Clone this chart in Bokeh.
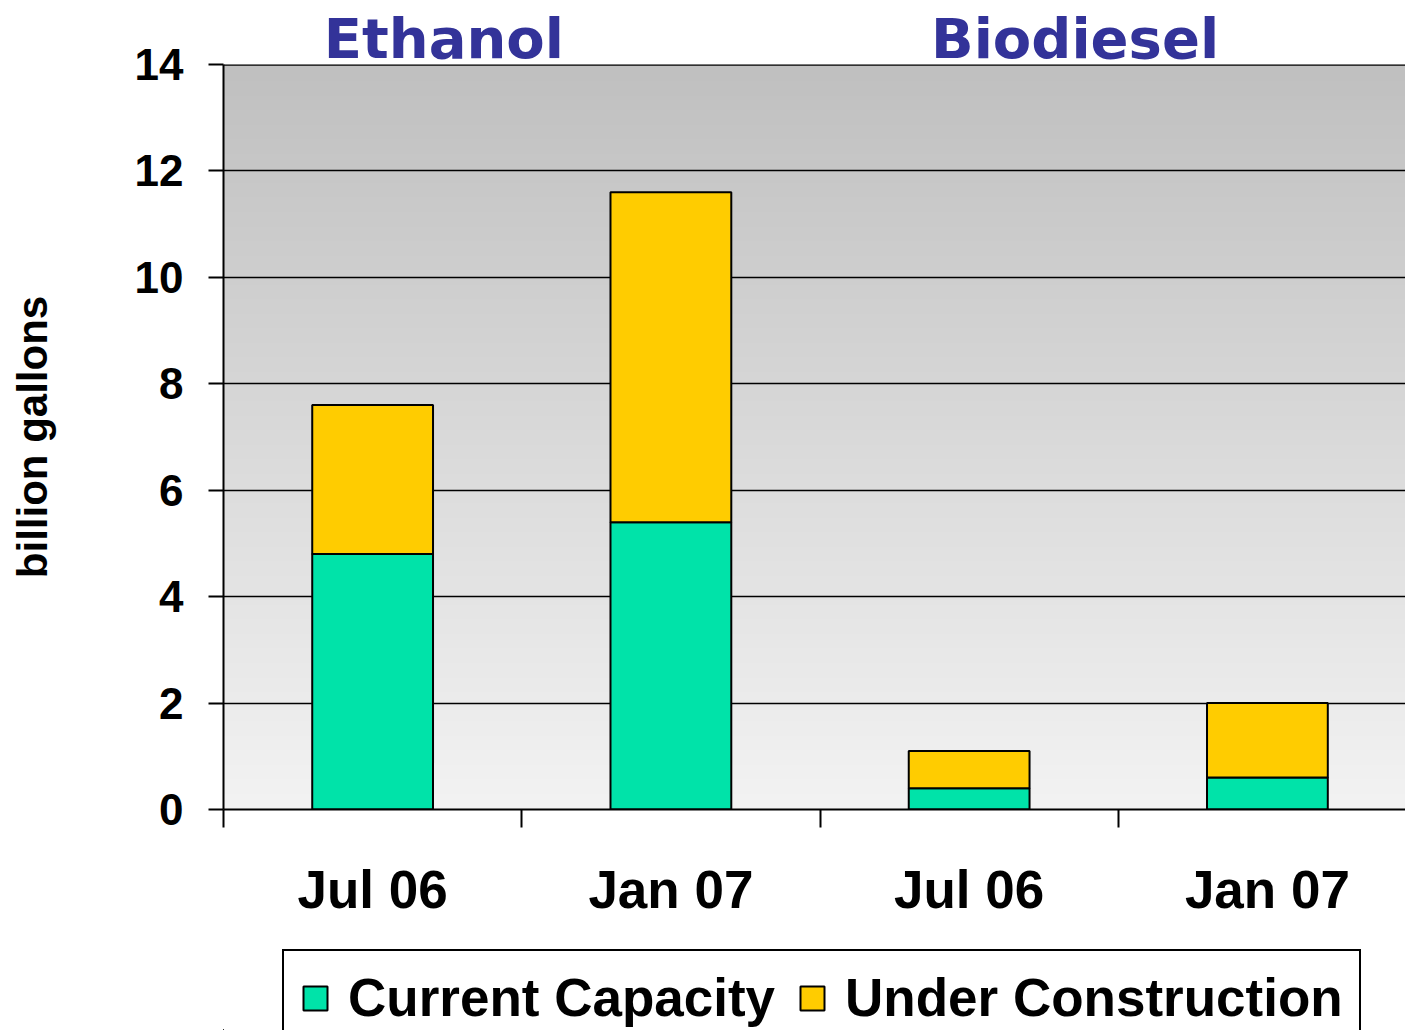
import numpy as np
from bokeh.plotting import figure
from bokeh.layouts import column
from bokeh.models import (Range1d, FixedTicker, Legend, LegendItem, Span, LinearAxis)
from bokeh.embed import file_html
from bokeh.resources import INLINE

# ---- data ----
categories = ["Jul 06", "Jan 07", "Jul 06", "Jan 07"]
groups = ["Ethanol", "Biodiesel"]
group_label_pos = [0.739, 2.855]
current_capacity = [4.8, 5.4, 0.4, 0.6]
under_construction = [2.8, 6.2, 0.7, 1.4]
series_names = ["Current Capacity", "Under Construction"]
y_ticks = [0, 2, 4, 6, 8, 10, 12, 14]

TEAL = "#00E3A9"
YELLOW = "#FFCC00"
NAVY = "#333399"
FONT = "Liberation Sans"

x_pos = [i + 0.5 for i in range(len(categories))]
x_end = 3.963

p = figure(width=1405, height=940, output_backend="svg", toolbar_location=None,
           title=None, x_range=Range1d(0, x_end), y_range=Range1d(0, 14),
           min_border_left=223, min_border_top=64, min_border_bottom=131,
           min_border_right=0)
p.outline_line_color = None
p.background_fill_color = "white"
p.border_fill_color = "white"

# gradient background for plot area
n = 512
vals = np.linspace(0xF3, 0xC0, n).astype(np.uint32)
img = np.zeros((n, 1), dtype=np.uint32)
view = img.view(dtype=np.uint8).reshape((n, 1, 4))
view[:, 0, 0] = vals
view[:, 0, 1] = vals
view[:, 0, 2] = vals
view[:, 0, 3] = 255
p.image_rgba(image=[img], x=0, y=0, dw=x_end, dh=14, level="image")

# grid
p.xgrid.visible = False
p.ygrid.grid_line_color = "black"
p.ygrid.grid_line_width = 1.6
p.ygrid.level = "underlay"
p.add_layout(Span(location=14, dimension="width", line_color="black", line_width=2.5))

src = dict(x=x_pos, current=current_capacity, under=under_construction)
rs = p.vbar_stack(["current", "under"], x="x", width=0.405, source=src,
                  color=[TEAL, YELLOW], line_color="black", line_width=2)

# y axis
yax = p.yaxis[0]
yax.ticker = FixedTicker(ticks=y_ticks, minor_ticks=[])
yax.major_label_text_font = FONT
yax.major_label_text_font_style = "bold"
yax.major_label_text_font_size = "44px"
yax.major_label_text_color = "black"
yax.major_tick_out = 15
yax.major_tick_in = 0
yax.major_tick_line_color = "black"
yax.major_tick_line_width = 2
yax.major_label_standoff = 25
yax.axis_line_color = "black"
yax.axis_line_width = 2
yax.axis_label = "billion gallons"
yax.axis_label_text_font = FONT
yax.axis_label_text_font_style = "bold"
yax.axis_label_text_font_size = "42px"
yax.axis_label_text_color = "black"
yax.axis_label_standoff = 76

# x axis
xax = p.xaxis[0]
xax.ticker = FixedTicker(ticks=x_pos, minor_ticks=[float(i) for i in range(len(categories))])
xax.major_label_overrides = {x: c for x, c in zip(x_pos, categories)}
xax.major_tick_out = 0
xax.major_tick_in = 0
xax.minor_tick_out = 18
xax.minor_tick_in = 0
xax.minor_tick_line_color = "black"
xax.minor_tick_line_width = 2
xax.axis_line_color = "black"
xax.axis_line_width = 2
xax.major_label_text_font = FONT
xax.major_label_text_font_style = "bold"
xax.major_label_text_font_size = "53px"
xax.major_label_text_color = "black"
xax.major_label_standoff = 32

# group titles as an axis above the frame
tax = LinearAxis(ticker=FixedTicker(ticks=group_label_pos, minor_ticks=[]),
                 major_label_overrides={x: g for x, g in zip(group_label_pos, groups)})
tax.axis_line_color = None
tax.major_tick_line_color = None
tax.minor_tick_line_color = None
tax.major_tick_out = 0
tax.major_tick_in = 0
tax.major_label_standoff = -6
tax.major_label_text_font = "DejaVu Sans"
tax.major_label_text_font_style = "bold"
tax.major_label_text_font_size = "56px"
tax.major_label_text_color = NAVY
p.add_layout(tax, "above")

# ---- legend strip (separate figure so the legend is not clipped) ----
q = figure(width=1405, height=90, output_backend="svg", toolbar_location=None,
           title=None, x_range=Range1d(100, 101), y_range=Range1d(100, 101),
           x_axis_location=None, y_axis_location=None,
           min_border_left=223, min_border_top=0, min_border_bottom=0,
           min_border_right=0)
q.grid.visible = False
q.outline_line_color = None
q.background_fill_color = "white"
q.border_fill_color = "white"
rq = q.vbar_stack(["current", "under"], x="x", width=0.405, source=src,
                  color=[TEAL, YELLOW], line_color="black", line_width=2)

legend = Legend(items=[LegendItem(label=series_names[0], renderers=[rq[0]]),
                       LegendItem(label=series_names[1], renderers=[rq[1]])],
                orientation="horizontal", location=(59, -16),
                label_text_font=FONT, label_text_font_style="bold",
                label_text_font_size="53px", label_text_color="black",
                glyph_width=30, glyph_height=30, label_standoff=18, spacing=22,
                padding=16, margin=0, border_line_color="black",
                border_line_width=2, border_line_alpha=1.0,
                background_fill_color="white", background_fill_alpha=1.0)
q.add_layout(legend, "center")

layout = column(p, q, spacing=0)
open("out.html", "w").write(file_html(layout, INLINE))
